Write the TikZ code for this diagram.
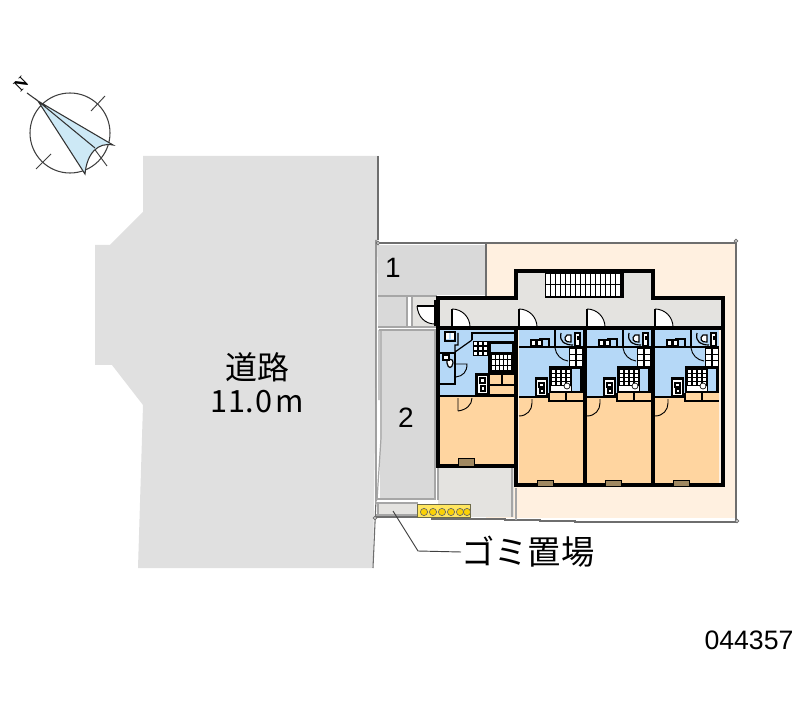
\documentclass[tikz,border=0pt]{standalone}
\usepackage{fontspec}
\setmainfont{Liberation Sans}
\newfontfamily\cjk{Noto Sans CJK JP}
\newfontfamily\serf{Liberation Serif}
\usetikzlibrary{calc}
\definecolor{road}{HTML}{E0E0E0}
\definecolor{park}{HTML}{D9D9D9}
\definecolor{cream}{HTML}{FFF0E0}
\definecolor{corr}{HTML}{E4E3E0}
\definecolor{blueroom}{HTML}{B5D8F7}
\definecolor{orangeroom}{HTML}{FFD5A0}
\definecolor{needle}{HTML}{CDE9F6}
\definecolor{edgegrey}{HTML}{6E6E6E}
\definecolor{brownwin}{HTML}{A08860}
\tikzset{
  x=0.75pt,y=-0.75pt,
  wall/.style={draw=black,line width=3pt,line join=miter},
  thinw/.style={draw=black,line width=0.9pt},
  midw/.style={draw=black,line width=1.5pt},
  bound/.style={draw=edgegrey,line width=1.3pt},
  fence/.style={draw=gray!70,line width=0.9pt},
  doorarc/.style={draw=black,line width=0.7pt},
  label/.style={inner sep=0pt,text=black},
  win/.style={fill=brownwin,draw=black,line width=0.5pt},
}
\newcommand{\cellgrid}[6]{% x y w h nx ny
  \fill[black] (#1,#2) rectangle ++(#3,#4);
  \foreach \gi in {1,...,#5}{\foreach \gj in {1,...,#6}{
    \fill[white] ({#1+(\gi-1)*#3/#5+0.6},{#2+(\gj-1)*#4/#6+0.6}) rectangle ++({#3/#5-1.3},{#4/#6-1.3});
  }}
}
\newcommand{\doorcorr}[1]{%
  \fill[white] (#1,309) -- ({#1},327) -- ({#1+18},327) arc[start angle=0,end angle=-90,radius=18] -- cycle;
  \draw[midw] (#1,309) -- (#1,327);
  \draw[doorarc] ({#1+18},327) arc[start angle=0,end angle=-90,radius=18];
}
\newcommand{\unitblock}[1]{%
 \begin{scope}[shift={(#1,0)}]
  \fill[blueroom] (2,330) rectangle (66,397);
  \fill[orangeroom] (2,397) rectangle (66,483);
  \doorcorr{2}
  % partition
  \draw[thinw] (2,347) -- (38,347);
  % sink
  \draw[thinw] (22,339) -- (32,339) -- (32,347);
  \draw[thinw] (38,330) -- (38,347);
  \fill[white] (14,340) rectangle (25,346);
  \draw[thinw] (14,340) rectangle (19,346) (20,340) rectangle (25,346);
  % toilet
  \draw[thinw] (44,333) .. controls (42,342) and (48,345) .. (56,345);
  \draw[thinw,fill=white] (50,335) .. controls (46,338) and (48,343) .. (54,342) -- (54,335) -- cycle;
  \draw[thinw,fill=white] (58,333) rectangle (63,346);
  \fill[black] (60,336) rectangle (62,340);
  \draw[thinw] (38,347) -- (66,347);
  % door arc
  \draw[doorarc] (38,348) .. controls (39,355) and (44,360) .. (51,361);
  \cellgrid{52}{348}{14}{19}{2}{3}
  % bath
  \fill[black] (32,366) rectangle (66,393);
  \cellgrid{34}{369}{20}{17}{4}{4}
  \fill[white] (34,386) rectangle (54,391);
  \draw[black,fill=white,line width=0.5pt] (50,386) circle (3);
  \fill[blueroom] (55,369) rectangle (63,391);
  % orange cupboard strip
  \fill[orangeroom] (32,393) rectangle (66,401);
  \draw[thinw] (49,393) -- (49,401);
  \draw[black,line width=1.3pt] (32,393) -- (32,401) -- (66,401);
  % washer
  \fill[black] (18,377) rectangle (31,397);
  \fill[white] (20,380) rectangle (29,395);
  \draw[thinw] (22,383) rectangle (27,387) (23,389) rectangle (27,393);
  % room door
  \draw[black,line width=0.9pt] (2,397) -- (32,397);
  \draw[doorarc] (15,399) -- (15,403) .. controls (15,410) and (10,416) .. (2,416);
 \end{scope}
}
\begin{document}
\begin{tikzpicture}
\useasboundingbox (0,0) rectangle (800,727);
\fill[white] (0,0) rectangle (800,727);

% compass
\draw[black!75,line width=0.8pt] (70,133) circle (40);
\draw[black!75,line width=0.7pt] (91,111) -- (105,96) (36,169) -- (51,154);
\draw[black!75,line width=0.7pt] (93,147) -- (107,166);
\fill[needle] (38,101) -- (113,145) .. controls (98,142) and (87,153) .. (85,174) -- cycle;
\draw[black!80,line width=0.8pt] (27,93) -- (38,101) -- (113,145) .. controls (98,142) and (87,153) .. (85,174) -- (38,101) -- (95,148);
\node[label,rotate=45,font=\serf\bfseries\fontsize{13}{13}\selectfont] (north) at (21,84) {N};

% road
\fill[road] (143,156) -- (378,156) -- (378,240) -- (373,568) -- (138,568) -- (143,405) -- (112,365) -- (95,365) -- (95,245) -- (110,245) -- (143,212) -- cycle;
\draw[edgegrey,line width=0.8pt] (378,156) -- (378,240);
\draw[edgegrey,line width=0.8pt] (376,240) -- (376,500) -- (373,568);

% site
\fill[cream] (486,243) rectangle (735,518);
\fill[park] (378,245) rectangle (485,295);
\fill[park] (378,297) rectangle (407,326);
\fill[corr] (412,297) rectangle (437,326);
\fill[park] (380,330) rectangle (435,498);
\fill[corr] (438,468) rectangle (514,517);
\fill[corr] (378,504) rectangle (418,515);

% fences and boundaries
\draw[bound] (376,243) -- (737,243);
\draw[bound] (486,243) -- (486,297);
\draw[bound] (736,243) -- (736,520);
\draw[bound] (376,517) -- (432,517) -- (432,519) -- (505,519) -- (505,520) -- (540,520) -- (540,521) -- (575,521) -- (575,522) -- (737,522);
\draw[fence] (378,296) -- (437,296);
\draw[fence] (378,327) -- (437,327);
\draw[fence] (407,297) -- (407,327) (412,297) -- (412,327);
\draw[fence] (379,330) -- (435,330) -- (435,500);
\draw[fence] (379,330) -- (379,400) (381,330) -- (381,438) -- (377,500);
\draw[fence] (376,499) -- (435,499);
\draw[fence] (376,503) -- (418,503);
\draw[fence] (376,515) -- (418,515);
\draw[fence] (378,503) -- (378,515);
\draw[fence] (438,468) -- (438,500);
\draw[fence] (512,468) -- (512,517);
\draw[fence] (516,488) -- (516,520);
\draw[edgegrey,line width=0.6pt,fill=white] (378,243) circle (1.7);
\draw[edgegrey,line width=0.6pt,fill=white] (736,241) circle (1.7);
\draw[edgegrey,line width=0.6pt,fill=white] (375,518) circle (1.7);
\draw[edgegrey,line width=0.6pt,fill=white] (737,521) circle (1.7);

% small door by the parking
\fill[white] (417,306) -- (435,306) -- (435,324) .. controls (425,324) and (418,317) .. (417,306) -- cycle;
\draw[thinw] (417,306) -- (435,306);
\draw[doorarc] (417,306) .. controls (418,317) and (425,324) .. (435,324);
\draw[thinw] (435,300) -- (435,326);

% corridor
\fill[corr] (439,299) rectangle (722,327);
\fill[corr] (517,271) rectangle (652,299);
% stairs
\fill[black] (545,272) rectangle (624,298);
\foreach \sx in {546,551,...,620}{
  \fill[white] (\sx,274) rectangle ++(4,10);
  \fill[white] (\sx,285) rectangle ++(4,11);
}

% unit A
\fill[blueroom] (440,330) rectangle (515,397);
\fill[orangeroom] (440,397) rectangle (515,465);
\doorcorr{452}
\draw[thinw] (445,332) rectangle (455,341);
\fill[white] (446,333) rectangle (449,339);
\fill[white] (451,333) rectangle (454,339);
\draw[thinw] (458,333) -- (458,345) -- (455,345) -- (455,352) -- (472,340);
\draw[thinw] (472,340) -- (472,333) -- (514,333);
\draw[thinw] (440,353) -- (455,353) -- (455,384) -- (440,384);
\draw[doorarc] (456,364) -- (467,364) .. controls (467,372) and (463,376) .. (456,377);
\draw[thinw,fill=white] (447,363) .. controls (444,358) and (455,358) .. (453,363) .. controls (452,369) and (448,369) .. (447,363) -- cycle;
\draw[thinw,fill=white] (443,355) rectangle (449,360);
\cellgrid{473}{341}{15}{15}{3}{3}
\fill[black] (488,341) rectangle (515,373);
\fill[blueroom] (491,344) rectangle (512,352);
\cellgrid{491}{354}{21}{17}{5}{3}
\fill[black] (475,373) rectangle (489,395);
\fill[white] (478,376) rectangle (487,393);
\draw[thinw] (480,378) rectangle (485,383) (481,386) rectangle (485,391);
\fill[orangeroom] (489,375) rectangle (515,395);
\draw[thinw] (489,385) -- (515,385) (502,375) -- (502,385) (489,374) rectangle (515,395);
\draw[black,line width=1.3pt] (440,396) -- (515,396);
\draw[doorarc] (458,398) -- (458,411) (458,411) .. controls (466,410) and (472,405) .. (472,398);

% units B C D
\unitblock{517}
\unitblock{585}
\unitblock{653}

% building outline
\draw[wall] (438,298) -- (516,298) -- (516,271) -- (653,271) -- (653,298) -- (723,298) -- (723,485) -- (516,485) -- (516,466) -- (438,466) -- cycle;
\draw[wall] (438,328) -- (723,328);
\draw[wall] (516,328) -- (516,485);
\draw[wall] (585,328) -- (585,485);
\draw[wall] (653,328) -- (653,485);

% window marks in outline
\draw[win] (458,458) rectangle (474,466);
\draw[win] (537,480) rectangle (553,486);
\draw[win] (605,480) rectangle (621,486);
\draw[win] (673,480) rectangle (689,486);

% bin yard
\fill[black!65!yellow] (417,504) rectangle (471,518);
\fill[orangeroom!60!yellow] (418,505) rectangle (470,517);
\foreach \cx in {424,433,442,451,460,467}{
  \draw[black!60,fill=yellow!70!orange,line width=0.5pt] (\cx,512) circle (3.6);
}

% labels
\node[label,font=\cjk\fontsize{24}{24}\selectfont] (roadname) at (257,367) {道路};
\node[label,font=\cjk\fontsize{23}{24}\selectfont] (roadwidth) at (257,402) {1\kern1pt1.\kern1pt0\kern2pt m};
\node[label,font=\fontsize{21}{21}\selectfont] (p1) at (393,268) {1};
\node[label,font=\fontsize{21}{21}\selectfont] (p2) at (406,418) {2};
\node[label,font=\cjk\fontsize{25}{25}\selectfont,anchor=west] (gomi) at (461,552) {ゴミ置場};
\node[label,font=\fontsize{20}{20}\selectfont] (code) at (749,640) {044357};

\coordinate (gomifrom) at (393,511);
\coordinate (gomibend) at (418,551);
\draw[black!75,line width=0.7pt] (gomifrom) -- (gomibend) -- (gomi.west);
\end{tikzpicture}
\end{document}
